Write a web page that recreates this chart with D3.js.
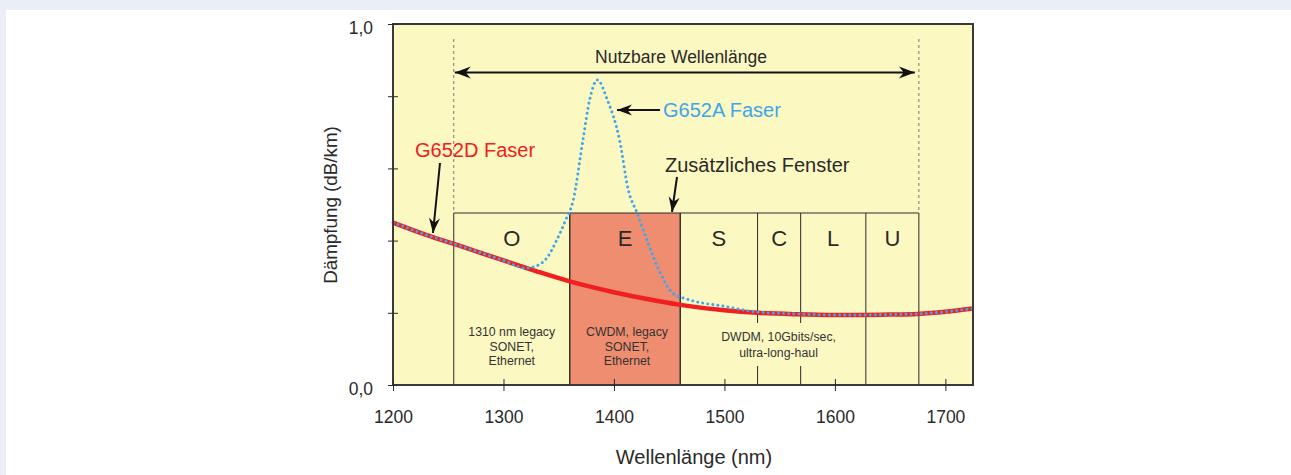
<!DOCTYPE html>
<html>
<head>
<meta charset="utf-8">
<script src="https://cdn.jsdelivr.net/npm/d3@7"></script>
<style>
  html, body { margin: 0; padding: 0; background: #eaeef8; }
  svg { display: block; }
  text { font-family: "Liberation Sans", Arial, Helvetica, sans-serif; }
</style>
</head>
<body>
<svg id="chart" width="1291" height="475"></svg>
<script>
// ---------- data ----------
const nmD = [1200,1230,1260,1300,1330,1360,1400,1430,1460,1500,1530,1565,1600,1625,1650,1675,1700,1725];
const g652D = [0.450,0.416,0.386,0.345,0.315,0.287,0.257,0.238,0.222,0.207,0.200,0.196,0.194,0.194,0.195,0.197,0.203,0.212];

const nmA = [1200,1230,1260,1300,1320,1330,1340,1348,1356,1363,1372,1378,1385,1394,1405,1413,1421,1430,1442,1453,1466,1500,1530,1565,1600,1625,1650,1675,1700,1725];
const g652A = [0.450,0.416,0.386,0.345,0.324,0.330,0.355,0.400,0.455,0.510,0.680,0.790,0.845,0.790,0.680,0.540,0.476,0.400,0.310,0.255,0.238,0.218,0.202,0.197,0.194,0.194,0.195,0.197,0.203,0.212];

const bandNames = ["O","E","S","C","L","U"];
const bandStart = [1255,1360,1460,1530,1569,1628];
const bandEnd   = [1360,1460,1530,1569,1628,1676];

const xTicks = [1200,1300,1400,1500,1600,1700];
const xTickLabels = ["1200","1300","1400","1500","1600","1700"];
const yTicks = [0,0.2,0.4,0.6,0.8,1.0];
const yTickLabels = ["0,0","","","","","1,0"];

const usableRange = [1255,1676];

const descO = ["1310 nm legacy","SONET,","Ethernet"];
const descE = ["CWDM, legacy","SONET,","Ethernet"];
const descDWDM = ["DWDM, 10Gbits/sec,","ultra-long-haul"];

// ---------- layout ----------
const svg = d3.select("#chart");
const L = 393, R = 973, T = 24, B = 385;
const x = d3.scaleLinear().domain([1200,1725]).range([L,R]);
const y = d3.scaleLinear().domain([0,1]).range([B,T]);
const bandTop = 213;

const ink = "#2a2a2a";
const yellow = "#fcf8c2";
const salmon = "#ef8d70";
const red = "#ee2020";
const blue = "#3ea5ee";

// page background
svg.append("rect").attr("x",0).attr("y",0).attr("width",1291).attr("height",475).attr("fill","#eaeef8");
svg.append("rect").attr("x",6).attr("y",10).attr("width",1285).attr("height",465).attr("fill","#ffffff");

// plot background
svg.append("rect").attr("x",L).attr("y",T).attr("width",R-L).attr("height",B-T).attr("fill",yellow);

// bands
const bands = bandNames.map((n,i)=>({name:n,s:bandStart[i],e:bandEnd[i]}));
svg.selectAll("rect.band").data(bands).enter().append("rect")
  .attr("class","band")
  .attr("x",d=>x(d.s)).attr("y",bandTop)
  .attr("width",d=>x(d.e)-x(d.s)).attr("height",B-bandTop)
  .attr("fill",d=>d.name==="E"?salmon:"none");

// band outlines: top line and verticals (with gaps behind DWDM text)
svg.append("line").attr("x1",x(bandStart[0])).attr("x2",x(bandEnd[bandEnd.length-1]))
  .attr("y1",bandTop).attr("y2",bandTop).attr("stroke",ink).attr("stroke-width",1.2);
const dividers = Array.from(new Set(bandStart.concat(bandEnd))).sort((a,b)=>a-b);
dividers.forEach(v=>{
  const gap = (v===bandStart[3] || v===bandStart[4]);
  const segs = gap ? [[bandTop,323],[366,B]] : [[bandTop,B]];
  segs.forEach(s=>{
    svg.append("line").attr("x1",x(v)).attr("x2",x(v)).attr("y1",s[0]).attr("y2",s[1])
      .attr("stroke",ink).attr("stroke-width",v===1360||v===1460?1.4:1);
  });
});

// dashed usable-range lines
usableRange.forEach(v=>{
  svg.append("line").attr("x1",x(v)).attr("x2",x(v)).attr("y1",39).attr("y2",bandTop)
    .attr("stroke","#777").attr("stroke-width",1).attr("stroke-dasharray","3,3");
});

// band letters
svg.selectAll("text.bandName").data(bands).enter().append("text")
  .attr("class","bandName")
  .attr("x",d=>(x(d.s)+x(d.e))/2).attr("y",246)
  .attr("text-anchor","middle").attr("font-size",22).attr("fill",ink)
  .text(d=>d.name);

function multiline(lines, cx, y0, dy){
  const t = svg.append("text").attr("text-anchor","middle").attr("font-size",12.3).attr("fill","#333");
  lines.forEach((ln,i)=>t.append("tspan").attr("x",cx).attr("y",y0+i*dy).text(ln));
}
multiline(descO, (x(bandStart[0])+x(bandEnd[0]))/2, 336, 14.5);
multiline(descE, (x(bandStart[1])+x(bandEnd[1]))/2+2, 336, 14.5);
multiline(descDWDM, x(1549), 341, 16);

// curves
const lineD = d3.line().x((d,i)=>x(nmD[i])).y(d=>y(d)).curve(d3.curveMonotoneX);
const lineA = d3.line().x((d,i)=>x(nmA[i])).y(d=>y(d)).curve(d3.curveMonotoneX);
svg.append("path").attr("d",lineD(g652D)).attr("fill","none").attr("stroke",red).attr("stroke-width",4.5);
svg.append("path").attr("d",lineA(g652A)).attr("fill","none").attr("stroke",blue)
  .attr("stroke-width",2.9).attr("stroke-dasharray","0.1,5").attr("stroke-linecap","round");

// frame
svg.append("rect").attr("x",L).attr("y",T).attr("width",R-L).attr("height",B-T)
  .attr("fill","none").attr("stroke","#3a3a3a").attr("stroke-width",2);

// axes
const xAxis = d3.axisBottom(x).tickValues(xTicks).tickFormat((d,i)=>xTickLabels[i]).tickSize(6).tickPadding(0);
const gx = svg.append("g").attr("transform",`translate(0,${B})`).call(xAxis);
gx.select(".domain").remove();
gx.selectAll(".tick line").attr("y1",-6).attr("y2",6).attr("stroke",ink);
gx.selectAll(".tick text").attr("y",38).attr("dy",0).attr("font-size",17.5).attr("fill",ink)
  .attr("font-family","'Liberation Sans', Arial, sans-serif");

const yAxis = d3.axisLeft(y).tickValues(yTicks).tickFormat((d,i)=>yTickLabels[i]).tickSize(5).tickPadding(0);
const gy = svg.append("g").attr("transform",`translate(${L},0)`).call(yAxis);
gy.select(".domain").remove();
gy.selectAll(".tick line").attr("x1",-5).attr("x2",5).attr("stroke",ink);
gy.selectAll(".tick text").attr("x",-20).attr("dy","0.55em").attr("font-size",17.5).attr("fill",ink)
  .attr("font-family","'Liberation Sans', Arial, sans-serif");

// axis titles
svg.append("text").attr("x",694).attr("y",464).attr("text-anchor","middle").attr("font-size",20).attr("fill",ink)
  .text("Wellenlänge (nm)");
svg.append("text").attr("transform","translate(337,205) rotate(-90)").attr("text-anchor","middle")
  .attr("font-size",18.8).attr("fill",ink).text("Dämpfung (dB/km)");

// arrows
function arrow(x1,y1,x2,y2,len=14,w=5.5,both=false){
  svg.append("line").attr("x1",x1).attr("y1",y1).attr("x2",x2).attr("y2",y2)
    .attr("stroke","#111").attr("stroke-width",2);
  const head = (ax,ay,bx,by)=>{
    const a = Math.atan2(by-ay,bx-ax);
    const px = bx - len*Math.cos(a), py = by - len*Math.sin(a);
    const nx = -Math.sin(a)*w, ny = Math.cos(a)*w;
    svg.append("path").attr("d",`M${bx},${by}L${px+nx},${py+ny}L${px+nx*0.2+len*0.25*Math.cos(a)},${py+ny*0.2+len*0.25*Math.sin(a)}L${px-nx*0.2+len*0.25*Math.cos(a)},${py-ny*0.2+len*0.25*Math.sin(a)}L${px-nx},${py-ny}Z`)
      .attr("fill","#111");
  };
  head(x1,y1,x2,y2);
  if(both) head(x2,y2,x1,y1);
}
arrow(x(usableRange[0])+1, 72.5, x(usableRange[1])-4, 72.5, 16, 6, true);
arrow(660,110,617,110,15,5.5);
arrow(440,163,433,233,15,5.5);
arrow(677,177,672,212,15,5.5);

// annotations
svg.append("text").attr("x",681).attr("y",63).attr("text-anchor","middle").attr("font-size",17.5).attr("fill",ink)
  .text("Nutzbare Wellenlänge");
svg.append("text").attr("x",663).attr("y",117).attr("font-size",20).attr("fill",blue).text("G652A Faser");
svg.append("text").attr("x",415).attr("y",157).attr("font-size",20).attr("fill",red).text("G652D Faser");
svg.append("text").attr("x",665).attr("y",172).attr("font-size",20).attr("fill",ink).text("Zusätzliches Fenster");
</script>
</body>
</html>
